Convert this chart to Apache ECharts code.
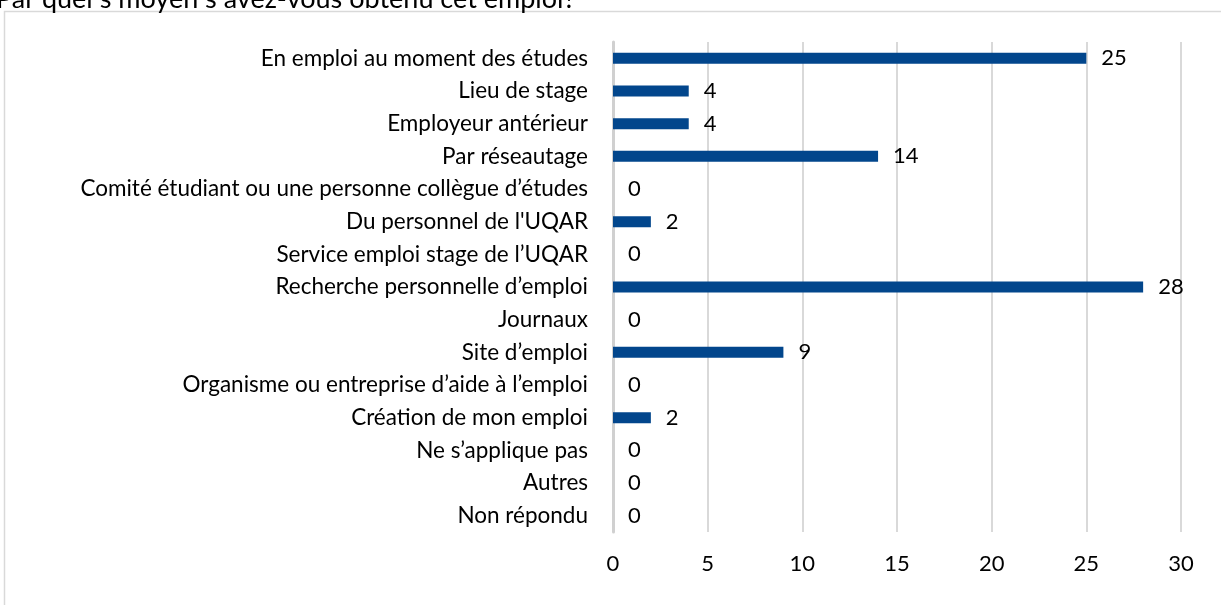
<!DOCTYPE html>
<html>
<head>
<meta charset="utf-8">
<script src="https://cdn.jsdelivr.net/npm/echarts@6/dist/echarts.min.js"></script>
<style>
  html, body { margin: 0; padding: 0; background: #fff; }
  #chart { width: 1221px; height: 605px; }
</style>
</head>
<body>
<div id="chart"></div>
<script>
// categories, top to bottom as in the picture
var categories = [
  "En emploi au moment des études",
  "Lieu de stage",
  "Employeur antérieur",
  "Par réseautage",
  "Comité étudiant ou une personne collègue d’études",
  "Du personnel de l'UQAR",
  "Service emploi stage de l’UQAR",
  "Recherche personnelle d’emploi",
  "Journaux",
  "Site d’emploi",
  "Organisme ou entreprise d’aide à l’emploi",
  "Création de mon emploi",
  "Ne s’applique pas",
  "Autres",
  "Non répondu"
];
var counts = [25, 4, 4, 14, 0, 2, 0, 28, 0, 9, 0, 2, 0, 0, 0];
var xTicks = [0, 5, 10, 15, 20, 25, 30];

var font = "Lato, 'Open Sans', sans-serif";

var myChart = echarts.init(document.getElementById('chart'));
var option = {
    animation: false,
    backgroundColor: '#fff',
    textStyle: {fontFamily: font},
    graphic: [
        {
            type: 'rect',
            shape: {x: 4.5, y: 11.5, width: 1230, height: 610},
            style: {fill: null, stroke: '#d9d9d9', lineWidth: 1.5},
            silent: true
        },
        {
            type: 'text',
            left: -4, top: -14,
            style: {text: 'Par quel s moyen s avez-vous obtenu cet emploi?', font: '27px ' + font, fill: '#000'}
        }
    ],
    grid: {left: 613, right: 40, top: 42, bottom: 73},
    xAxis: {
        type: 'value',
        min: xTicks[0],
        max: xTicks[xTicks.length - 1],
        interval: 5,
        axisLine: {show: false},
        axisTick: {show: false},
        axisLabel: {color: '#000', fontSize: 22, margin: 21, fontFamily: font},
        splitLine: {lineStyle: {color: '#d9d9d9', width: 2}}
    },
    yAxis: {
        type: 'category',
        data: categories,
        inverse: true,
        axisLine: {show: true, lineStyle: {color: '#d0d0d0', width: 3}},
        axisTick: {show: false},
        axisLabel: {color: '#000', fontSize: 22.5, margin: 25, fontFamily: font}
    },
    series: [{
        type: 'bar',
        data: counts,
        barWidth: 11,
        itemStyle: {color: '#02468c'},
        label: {
            show: true,
            position: 'right',
            distance: 15,
            color: '#000',
            fontSize: 22,
            fontFamily: font
        }
    }]
};
myChart.setOption(option);
</script>
</body>
</html>
